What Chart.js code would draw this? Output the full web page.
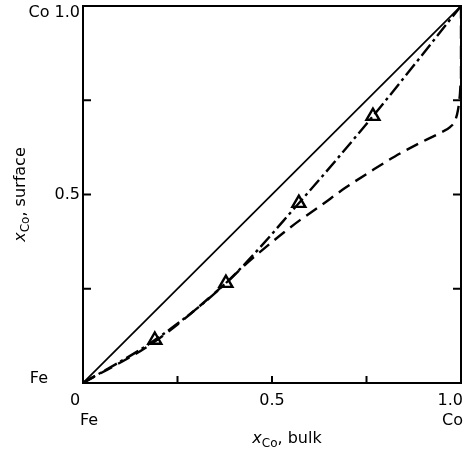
<!DOCTYPE html>
<html>
<head>
<meta charset="utf-8">
<script src="https://cdn.jsdelivr.net/npm/chart.js@4.4.1/dist/chart.umd.min.js"></script>
<style>
  html, body { margin: 0; padding: 0; background: #fff; }
  #wrap { width: 470px; height: 452px; }
</style>
</head>
<body>
<div id="wrap"><canvas id="segChart" width="470" height="452"></canvas></div>
<script>
// ideal solution (no segregation)
const idealX = [0, 1];
const idealY = [0, 1];

// measured surface composition (triangles)
const measuredX = [0.19, 0.378, 0.571, 0.767];
const measuredY = [0.114, 0.265, 0.477, 0.708];

// fit through measurements (dash-dot)
const fitX = [0, 0.19, 0.378, 0.571, 0.767, 1.0];
const fitY = [0, 0.114, 0.265, 0.477, 0.708, 1.0];

// calculated curve (dashed)
const modelX = [0, 0.19, 0.378, 0.423, 0.5, 0.574, 0.627, 0.693, 0.759, 0.825, 0.892, 0.944, 0.971, 0.984, 0.992, 0.997, 1.0, 1.0];
const modelY = [0, 0.11, 0.265, 0.308, 0.374, 0.432, 0.469, 0.517, 0.560, 0.601, 0.637, 0.663, 0.679, 0.695, 0.724, 0.764, 0.804, 1.0];

// axis ticks and labels
const tickValues = [0, 0.25, 0.5, 0.75, 1];
const xTickLabels = ['0', '', '0.5', '', '1.0'];
const yTickLabels = ['Fe', '', '0.5', '', 'Co 1.0'];
const xEndLabels = ['Fe', 'Co'];

const toPoints = (xs, ys) => xs.map((v, i) => ({ x: v, y: ys[i] }));

const FONT = '"DejaVu Sans", sans-serif';

// frame, inward ticks, labels and axis titles
const framePlugin = {
    id: 'frame',
    afterDraw(chart) {
        const ctx = chart.ctx;
        const a = chart.chartArea;
        const sx = chart.scales.x;
        const sy = chart.scales.y;
        ctx.save();
        ctx.strokeStyle = '#000';
        ctx.lineWidth = 2;
        ctx.strokeRect(a.left, a.top, a.right - a.left, a.bottom - a.top);

        ctx.lineWidth = 2;
        ctx.beginPath();
        tickValues.forEach(v => {
            if (v === 0 || v === 1) return;
            const px = sx.getPixelForValue(v);
            ctx.moveTo(px, a.bottom);
            ctx.lineTo(px, a.bottom - 7);
            const py = sy.getPixelForValue(v);
            ctx.moveTo(a.left, py);
            ctx.lineTo(a.left + 8, py);
            ctx.moveTo(a.right, py);
            ctx.lineTo(a.right - 8, py);
        });
        ctx.stroke();

        ctx.fillStyle = '#000';
        ctx.font = '16px ' + FONT;
        ctx.textBaseline = 'middle';

        // x tick labels
        const xLabelY = a.bottom + 18;
        tickValues.forEach((v, i) => {
            const t = xTickLabels[i];
            if (!t) return;
            const px = sx.getPixelForValue(v);
            if (v === 0) { ctx.textAlign = 'center'; ctx.fillText(t, px - 8, xLabelY); }
            else if (v === 1) { ctx.textAlign = 'right'; ctx.fillText(t, px + 2, xLabelY); }
            else { ctx.textAlign = 'center'; ctx.fillText(t, px, xLabelY); }
        });
        ctx.textAlign = 'left';
        ctx.fillText(xEndLabels[0], sx.getPixelForValue(0) - 3, a.bottom + 38);
        ctx.textAlign = 'right';
        ctx.fillText(xEndLabels[1], sx.getPixelForValue(1) + 2, a.bottom + 38);

        // y tick labels
        tickValues.forEach((v, i) => {
            const t = yTickLabels[i];
            if (!t) return;
            const py = sy.getPixelForValue(v);
            ctx.textAlign = 'right';
            if (v === 1) ctx.fillText(t, a.left - 3, py + 7);
            else if (v === 0) ctx.fillText(t, a.left - 35, py - 4);
            else ctx.fillText(t, a.left - 3, py);
        });

        // axis titles: x_Co, bulk / x_Co, surface
        const drawTitle = (rest) => {
            ctx.font = 'italic 16px ' + FONT;
            const w1 = ctx.measureText('x').width;
            ctx.font = '12px ' + FONT;
            const w2 = ctx.measureText('Co').width;
            ctx.font = '16px ' + FONT;
            const w3 = ctx.measureText(rest).width;
            const total = w1 + w2 + w3;
            let x0 = -total / 2;
            ctx.textAlign = 'left';
            ctx.textBaseline = 'alphabetic';
            ctx.font = 'italic 16px ' + FONT;
            ctx.fillText('x', x0, 0);
            ctx.font = '12px ' + FONT;
            ctx.fillText('Co', x0 + w1, 4);
            ctx.font = '16px ' + FONT;
            ctx.fillText(rest, x0 + w1 + w2, 0);
        };
        ctx.save();
        ctx.translate(287, 443);
        drawTitle(', bulk');
        ctx.restore();
        ctx.save();
        ctx.translate(25, (a.top + a.bottom) / 2);
        ctx.rotate(-Math.PI / 2);
        drawTitle(', surface');
        ctx.restore();

        ctx.restore();
    }
};

new Chart(document.getElementById('segChart').getContext('2d'), {
    type: 'scatter',
    data: {
        datasets: [
            {
                label: 'ideal',
                data: toPoints(idealX, idealY),
                showLine: true,
                borderColor: '#000',
                borderWidth: 1.7,
                pointRadius: 0
            },
            {
                label: 'fit',
                data: toPoints(fitX, fitY),
                showLine: true,
                borderColor: '#000',
                borderWidth: 2.4,
                borderDash: [14, 4, 3, 4],
                cubicInterpolationMode: 'monotone',
                pointRadius: 0
            },
            {
                label: 'calculated',
                data: toPoints(modelX, modelY),
                showLine: true,
                borderColor: '#000',
                borderWidth: 2.4,
                borderDash: [13, 7],
                cubicInterpolationMode: 'monotone',
                pointRadius: 0
            },
            {
                label: 'measured',
                data: toPoints(measuredX, measuredY),
                showLine: false,
                pointStyle: 'triangle',
                pointRadius: 7.5,
                pointBorderWidth: 2.4,
                pointBackgroundColor: '#fff',
                pointBorderColor: '#000'
            }
        ]
    },
    options: {
        responsive: false,
        animation: false,
        layout: { autoPadding: false, padding: { top: 6, right: 9, left: 0, bottom: 0 } },
        plugins: {
            legend: { display: false },
            tooltip: { enabled: false }
        },
        scales: {
            x: {
                type: 'linear',
                min: 0,
                max: 1,
                grid: { display: false },
                border: { display: false },
                ticks: { display: false },
                afterFit(scale) { scale.height = 69; }
            },
            y: {
                type: 'linear',
                min: 0,
                max: 1,
                grid: { display: false },
                border: { display: false },
                ticks: { display: false },
                afterFit(scale) { scale.width = 83; }
            }
        }
    },
    plugins: [framePlugin]
});
</script>
</body>
</html>
